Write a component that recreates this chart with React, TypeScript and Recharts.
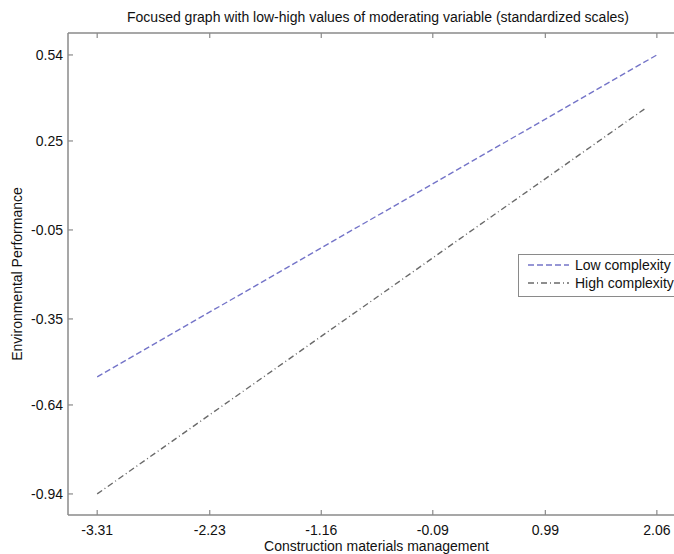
import React from 'react';
import { LineChart, Line, XAxis, YAxis, Legend, ReferenceLine } from 'recharts';

/* ── Data ────────────────────────────────────────────────────────────── */
const xTicks = [-3.31, -2.23, -1.16, -0.09, 0.99, 2.06];
const yTicks = [-0.94, -0.64, -0.35, -0.05, 0.25, 0.54];

const lowX = [-3.31, 2.06];
const lowY = [-0.545, 0.54];
const highX = [-3.31, 1.95];
const highY = [-0.94, 0.36];

const lowData = lowX.map((x, i) => ({ x, y: lowY[i] }));
const highData = highX.map((x, i) => ({ x, y: highY[i] }));

const FONT = '"Liberation Sans", Arial, Helvetica, sans-serif';
const AXIS = '#8a8a8a';
const LOW = '#7474c8';
const HIGH = '#6a6a6a';
const LOW_DASH = '6 3';
const HIGH_DASH = '6 3 1 3';
const X_DOMAIN: [number, number] = [-3.59, 2.33];
const Y_MIN = -1.011;
const Y_MAX = 0.614;
// inward tick length for the top frame, in y units (~5px of a 482px plot)
const TOP_TICK = ((Y_MAX - Y_MIN) / 482) * 5;

const fmt = (v: number) => v.toFixed(2);

/* ── Ticks (MATLAB style: pointing inwards) ──────────────────────────── */
// eslint-disable-next-line @typescript-eslint/no-explicit-any
function BottomTick({ x, y, payload }: any) {
  return (
    <g>
      <line x1={x} x2={x} y1={y} y2={y - 5} stroke={AXIS} strokeWidth={1.2} />
      <text x={x} y={y + 20} textAnchor="middle" fontSize={14} fontFamily={FONT} fill="#111">
        {fmt(payload.value)}
      </text>
    </g>
  );
}

// eslint-disable-next-line @typescript-eslint/no-explicit-any
function LeftTick({ x, y, payload }: any) {
  return (
    <g>
      <line x1={x} x2={x + 5} y1={y} y2={y} stroke={AXIS} strokeWidth={1.2} />
      <text x={x - 5} y={y + 5} textAnchor="end" fontSize={14} fontFamily={FONT} fill="#111">
        {fmt(payload.value)}
      </text>
    </g>
  );
}

/* ── Legend box ──────────────────────────────────────────────────────── */
function LegendBox() {
  return (
    <div style={{ width: 162, height: 43, border: `1.5px solid ${AXIS}`, background: '#fff', boxSizing: 'border-box' }}>
      <svg width={162} height={41} style={{ display: 'block' }}>
        <line x1={9} x2={50} y1={10} y2={10} stroke={LOW} strokeWidth={1.4} strokeDasharray={LOW_DASH} />
        <text x={56} y={15} fontSize={14} fontFamily={FONT} fill="#111">Low complexity</text>
        <line x1={9} x2={50} y1={28} y2={28} stroke={HIGH} strokeWidth={1.4} strokeDasharray={HIGH_DASH} />
        <text x={56} y={33} fontSize={14} fontFamily={FONT} fill="#111">High complexity</text>
      </svg>
    </div>
  );
}

export default function App() {
  return (
    <div style={{ position: 'fixed', left: 0, top: 0, width: 674, height: 554, overflow: 'hidden', background: '#fff' }}>
      <LineChart width={700} height={554} margin={{ top: 33, right: 15, bottom: 9, left: 8 }}>
        <XAxis
          dataKey="x"
          type="number"
          domain={X_DOMAIN}
          ticks={xTicks}
          allowDataOverflow
          height={30}
          tickSize={0}
          tickMargin={0}
          tickLine={false}
          tick={<BottomTick />}
          axisLine={{ stroke: AXIS, strokeWidth: 1.5 }}
          label={{
            value: 'Construction materials management',
            position: 'bottom',
            offset: -4,
            style: { fontFamily: FONT, fontSize: 14, fill: '#111' },
          }}
        />
        <YAxis
          type="number"
          domain={[Y_MIN, Y_MAX]}
          ticks={yTicks}
          allowDataOverflow
          width={60}
          tickSize={0}
          tickMargin={0}
          tickLine={false}
          tick={<LeftTick />}
          axisLine={{ stroke: AXIS, strokeWidth: 1.5 }}
          label={{
            value: 'Environmental Performance',
            angle: -90,
            position: 'insideLeft',
            offset: 0,
            dx: 9,
            style: { textAnchor: 'middle', fontFamily: FONT, fontSize: 14, fill: '#111' },
          }}
        />

        {/* top frame with inward ticks */}
        <ReferenceLine y={Y_MAX} stroke={AXIS} strokeWidth={1.5} ifOverflow="visible" />
        {xTicks.map((t) => (
          <ReferenceLine
            key={`top-${t}`}
            segment={[{ x: t, y: Y_MAX }, { x: t, y: Y_MAX - TOP_TICK }]}
            stroke={AXIS}
            strokeWidth={1.2}
            ifOverflow="visible"
          />
        ))}

        <Legend
          layout="horizontal"
          verticalAlign="middle"
          align="center"
          content={<LegendBox />}
          wrapperStyle={{ left: 518, top: 254, width: 162, height: 43 }}
        />
        <Line
          data={lowData}
          dataKey="y"
          type="linear"
          stroke={LOW}
          strokeWidth={1.4}
          strokeDasharray={LOW_DASH}
          dot={false}
          isAnimationActive={false}
          legendType="none"
        />
        <Line
          data={highData}
          dataKey="y"
          type="linear"
          stroke={HIGH}
          strokeWidth={1.4}
          strokeDasharray={HIGH_DASH}
          dot={false}
          isAnimationActive={false}
          legendType="none"
        />
      </LineChart>
      <div
        style={{
          position: 'absolute', left: 0, top: 8, width: 756, height: 18, lineHeight: '18px',
          textAlign: 'center', fontFamily: FONT, fontSize: 14, color: '#111', pointerEvents: 'none',
        }}
      >
        Focused graph with low-high values of moderating variable (standardized scales)
      </div>
    </div>
  );
}
